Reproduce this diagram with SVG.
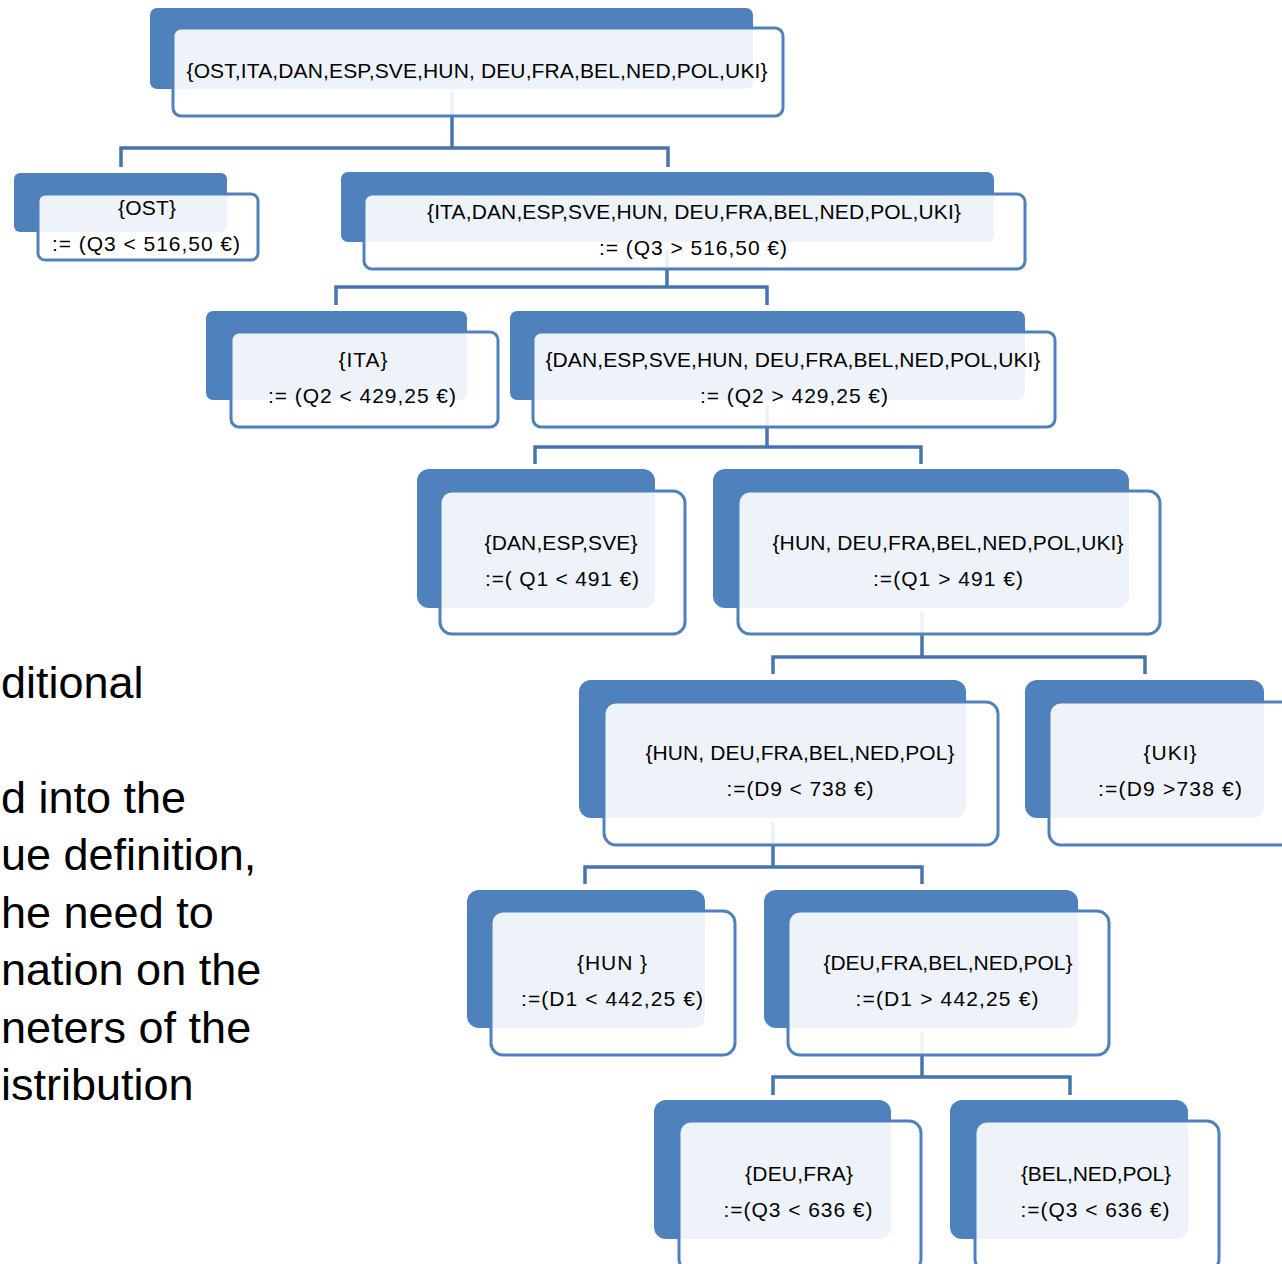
<svg xmlns="http://www.w3.org/2000/svg" width="1282" height="1264" viewBox="0 0 1282 1264">
<style>
.bk{fill:#4F81BD}
.fr{fill:#FFFFFF;fill-opacity:0.9;stroke:#4F81BD;stroke-width:3}
.t{font-family:"Liberation Sans",Arial,sans-serif;font-size:21px;fill:#000;text-anchor:middle}
.c{fill:none;stroke:#4675AE;stroke-width:3.5}
.side{font-family:"Liberation Sans",Arial,sans-serif;font-size:45px;fill:#000}
</style>
<rect width="1282" height="1264" fill="#FFFFFF"/>
<g id="side-text">
<text class="side" x="1" y="698">ditional</text>
<text class="side" x="1" y="813">d into the</text>
<text class="side" x="1" y="870">ue definition,</text>
<text class="side" x="1" y="928">he need to</text>
<text class="side" x="1" y="985">nation on the</text>
<text class="side" x="1" y="1043">neters of the</text>
<text class="side" x="1" y="1100">istribution</text>
</g>
<g id="connectors">
<path class="c" d="M452,92 V148 M121,167 V148 H668 V167"/>
<path class="c" d="M667,250 V287 M336,305 V287 H767 V305"/>
<path class="c" d="M767,405 V447 M535,464 V447 H921 V464"/>
<path class="c" d="M922,612 V657 M773,674 V657 H1145 V674"/>
<path class="c" d="M773,822 V867 M585,884 V867 H922 V884"/>
<path class="c" d="M922,1033 V1077 M773,1095 V1077 H1070 V1095"/>
</g>
<g id="n-root">
<rect class="bk" x="150" y="8" width="603" height="81" rx="7"/>
<rect class="fr" x="173" y="28" width="610" height="88" rx="8"/>
<text class="t" x="477" y="78" textLength="581">{OST,ITA,DAN,ESP,SVE,HUN, DEU,FRA,BEL,NED,POL,UKI}</text>
</g>
<g id="n-ost">
<rect class="bk" x="14" y="173" width="213" height="59" rx="6"/>
<rect class="fr" x="38" y="194" width="220" height="66" rx="7"/>
<text class="t" x="147" y="215" textLength="58">{OST}</text>
<text class="t" x="146" y="251" textLength="188">:= (Q3 &lt; 516,50 €)</text>
</g>
<g id="n-ita-uki">
<rect class="bk" x="341" y="172" width="653" height="70" rx="7"/>
<rect class="fr" x="364" y="194" width="661" height="75" rx="8"/>
<text class="t" x="694" y="219" textLength="534">{ITA,DAN,ESP,SVE,HUN, DEU,FRA,BEL,NED,POL,UKI}</text>
<text class="t" x="693" y="255" textLength="188">:= (Q3 &gt; 516,50 €)</text>
</g>
<g id="n-ita">
<rect class="bk" x="206" y="311" width="261" height="89" rx="7"/>
<rect class="fr" x="231" y="332" width="267" height="95" rx="8"/>
<text class="t" x="363" y="367" textLength="49">{ITA}</text>
<text class="t" x="362" y="403" textLength="188">:= (Q2 &lt; 429,25 €)</text>
</g>
<g id="n-dan-uki">
<rect class="bk" x="510" y="311" width="515" height="89" rx="7"/>
<rect class="fr" x="533" y="332" width="522" height="95" rx="8"/>
<text class="t" x="793" y="367" textLength="495">{DAN,ESP,SVE,HUN, DEU,FRA,BEL,NED,POL,UKI}</text>
<text class="t" x="794" y="403" textLength="188">:= (Q2 &gt; 429,25 €)</text>
</g>
<g id="n-dan">
<rect class="bk" x="417" y="469" width="238" height="139" rx="12"/>
<rect class="fr" x="440" y="491" width="245" height="143" rx="12"/>
<text class="t" x="561" y="550" textLength="153">{DAN,ESP,SVE}</text>
<text class="t" x="562" y="586" textLength="154">:=( Q1 &lt; 491 €)</text>
</g>
<g id="n-hun-uki">
<rect class="bk" x="713" y="469" width="416" height="139" rx="12"/>
<rect class="fr" x="738" y="491" width="422" height="143" rx="12"/>
<text class="t" x="948" y="550" textLength="351">{HUN, DEU,FRA,BEL,NED,POL,UKI}</text>
<text class="t" x="948" y="586" textLength="150">:=(Q1 &gt; 491 €)</text>
</g>
<g id="n-hun-pol">
<rect class="bk" x="579" y="680" width="387" height="138" rx="12"/>
<rect class="fr" x="604" y="702" width="394" height="143" rx="12"/>
<text class="t" x="800" y="760" textLength="309">{HUN, DEU,FRA,BEL,NED,POL}</text>
<text class="t" x="800" y="796" textLength="147">:=(D9 &lt; 738 €)</text>
</g>
<g id="n-uki">
<rect class="bk" x="1025" y="680" width="239" height="138" rx="12"/>
<rect class="fr" x="1049" y="702" width="245" height="143" rx="12"/>
<text class="t" x="1170" y="760" textLength="53">{UKI}</text>
<text class="t" x="1170" y="796" textLength="144">:=(D9 &gt;738 €)</text>
</g>
<g id="n-hun">
<rect class="bk" x="467" y="890" width="238" height="138" rx="12"/>
<rect class="fr" x="491" y="911" width="244" height="144" rx="12"/>
<text class="t" x="612" y="970" textLength="70">{HUN }</text>
<text class="t" x="612" y="1006" textLength="182">:=(D1 &lt; 442,25 €)</text>
</g>
<g id="n-deu-pol">
<rect class="bk" x="764" y="890" width="314" height="138" rx="12"/>
<rect class="fr" x="788" y="911" width="321" height="144" rx="12"/>
<text class="t" x="948" y="970" textLength="249">{DEU,FRA,BEL,NED,POL}</text>
<text class="t" x="947" y="1006" textLength="183">:=(D1 &gt; 442,25 €)</text>
</g>
<g id="n-deu-fra">
<rect class="bk" x="654" y="1100" width="237" height="139" rx="12"/>
<rect class="fr" x="679" y="1121" width="242" height="150" rx="12"/>
<text class="t" x="799" y="1181" textLength="108">{DEU,FRA}</text>
<text class="t" x="798" y="1217" textLength="149">:=(Q3 &lt; 636 €)</text>
</g>
<g id="n-bel-pol">
<rect class="bk" x="950" y="1100" width="238" height="139" rx="12"/>
<rect class="fr" x="975" y="1121" width="244" height="150" rx="12"/>
<text class="t" x="1096" y="1181" textLength="150">{BEL,NED,POL}</text>
<text class="t" x="1095" y="1217" textLength="149">:=(Q3 &lt; 636 €)</text>
</g>
</svg>
